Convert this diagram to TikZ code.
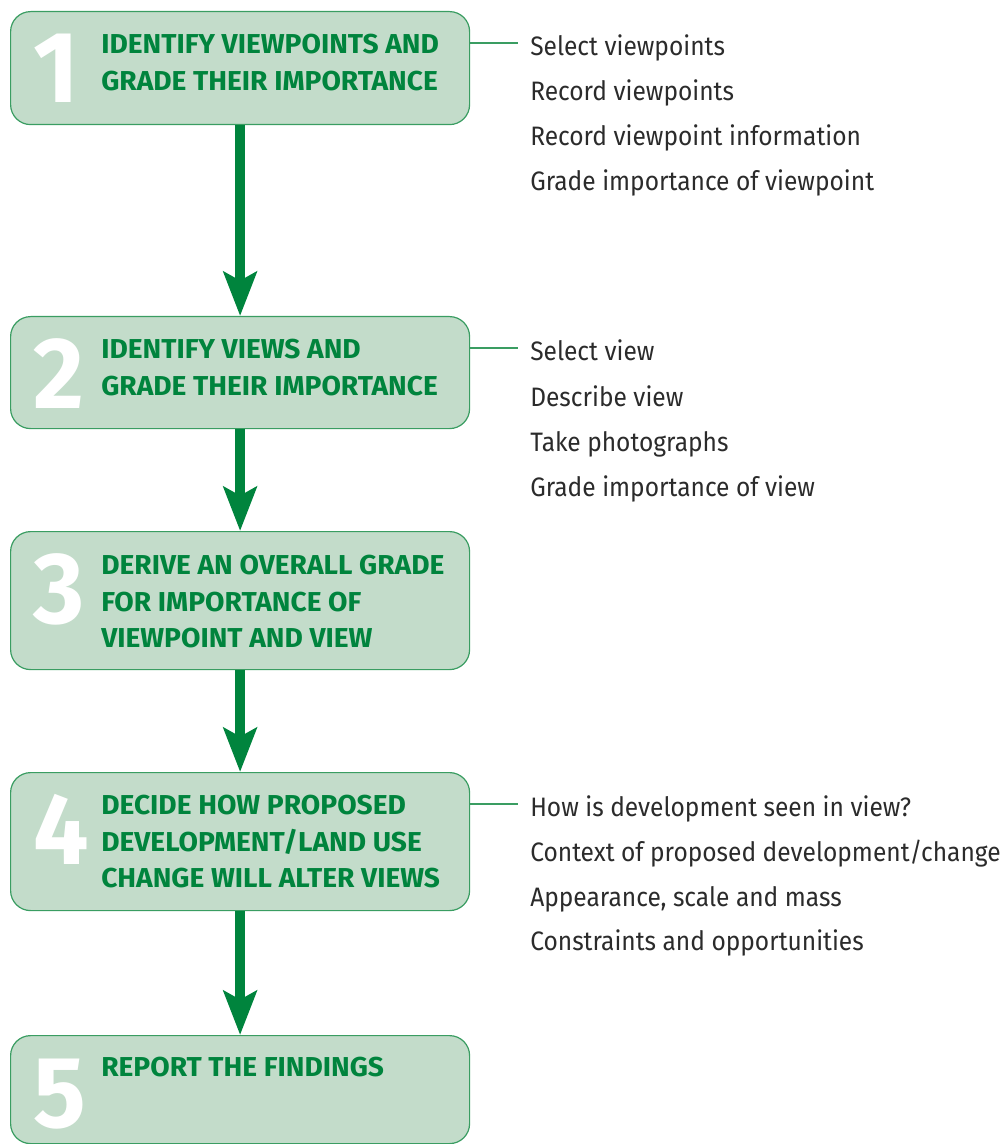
\documentclass[tikz,border=0pt]{standalone}
\usepackage{fontspec}
\setmainfont{Fira Sans}
\newfontfamily\titlefont[FakeStretch=1.03]{Fira Sans}
\newfontfamily\numfont[FakeStretch=0.97]{Fira Sans}
\newfontfamily\taskfont[FakeStretch=0.92]{Fira Sans}
\usetikzlibrary{arrows.meta}
\definecolor{boxfill}{HTML}{C3DCCA}
\definecolor{boxline}{HTML}{3A9D62}
\definecolor{titlegreen}{HTML}{00843D}
\definecolor{taskgrey}{HTML}{2B2B2B}

\begin{document}
\begin{tikzpicture}[x=0.75pt,y=0.75pt,yscale=-1,
    stepbox/.style={draw=boxline, line width=0.9pt, fill=boxfill, rounded corners=15pt, anchor=north west, minimum width=344.25pt, inner sep=0pt},
    stepnum/.style={anchor=base west, inner sep=0pt, text=white, font=\numfont\bfseries\fontsize{76}{76}\selectfont},
    steptitle/.style={anchor=north west, inner sep=0pt, align=left, text=titlegreen, font=\titlefont\bfseries\fontsize{20.5}{27.4}\selectfont},
    subtask/.style={anchor=base west, inner sep=0pt, text=taskgrey, font=\taskfont\fontsize{20}{20}\selectfont},
    linkline/.style={draw=boxline, line width=0.9pt},
    flowarrow/.style={draw=titlegreen, line width=7.5pt, -{Stealth[length=33pt, width=24.75pt, inset=6.5pt]}}]
        \useasboundingbox (0,0) rectangle (1003,1144);

        \node [stepbox, minimum height=84.75pt] (box1) at (10,11) {};
        \node [stepbox, minimum height=84pt] (box2) at (10,316) {};
        \node [stepbox, minimum height=103.5pt] (box3) at (10,531) {};
        \node [stepbox, minimum height=103.5pt] (box4) at (10,772) {};
        \node [stepbox, minimum height=81pt] (box5) at (10,1035) {};

        \draw [flowarrow] (box1.south) -- (box2.north);
        \draw [flowarrow] (box2.south) -- (box3.north);
        \draw [flowarrow] (box3.south) -- (box4.north);
        \draw [flowarrow] (box4.south) -- (box5.north);

        \node [stepnum] (num1) at (33,103) {1};
        \node [stepnum] (num2) at (33,408) {2};
        \node [stepnum] (num3) at (33,623) {3};
        \node [stepnum] (num4) at (33,864) {4};
        \node [stepnum] (num5) at (33,1127) {5};

        \node [steptitle] (title1) at (101,34) {IDENTIFY VIEWPOINTS AND\\GRADE THEIR IMPORTANCE};
        \node [steptitle] (title2) at (101,339) {IDENTIFY VIEWS AND\\GRADE THEIR IMPORTANCE};
        \node [steptitle] (title3) at (101,555) {DERIVE AN OVERALL GRADE\\FOR IMPORTANCE OF\\VIEWPOINT AND VIEW};
        \node [steptitle] (title4) at (101,795) {DECIDE HOW PROPOSED\\DEVELOPMENT/LAND USE\\CHANGE WILL ALTER VIEWS};
        \node [steptitle] (title5) at (101,1057) {REPORT THE FINDINGS};

        \node [subtask] (task11) at (530,56) {Select viewpoints};
        \node [subtask] (task12) at (530,101) {Record viewpoints};
        \node [subtask] (task13) at (530,146) {Record viewpoint information};
        \node [subtask] (task14) at (530,191) {Grade importance of viewpoint};

        \node [subtask] (task21) at (530,361) {Select view};
        \node [subtask] (task22) at (530,406) {Describe view};
        \node [subtask] (task23) at (530,451) {Take photographs};
        \node [subtask] (task24) at (530,496) {Grade importance of view};

        \node [subtask] (task41) at (530,816) {How is development seen in view?};
        \node [subtask] (task42) at (530,861) {Context of proposed development/change};
        \node [subtask] (task43) at (530,906) {Appearance, scale and mass};
        \node [subtask] (task44) at (530,950) {Constraints and opportunities};

        \coordinate (link1) at (518,43);
        \coordinate (link2) at (518,348);
        \coordinate (link4) at (518,804);
        \draw [linkline] (box1.east |- link1) -- (link1);
        \draw [linkline] (box2.east |- link2) -- (link2);
        \draw [linkline] (box4.east |- link4) -- (link4);
    \end{tikzpicture}
\end{document}
